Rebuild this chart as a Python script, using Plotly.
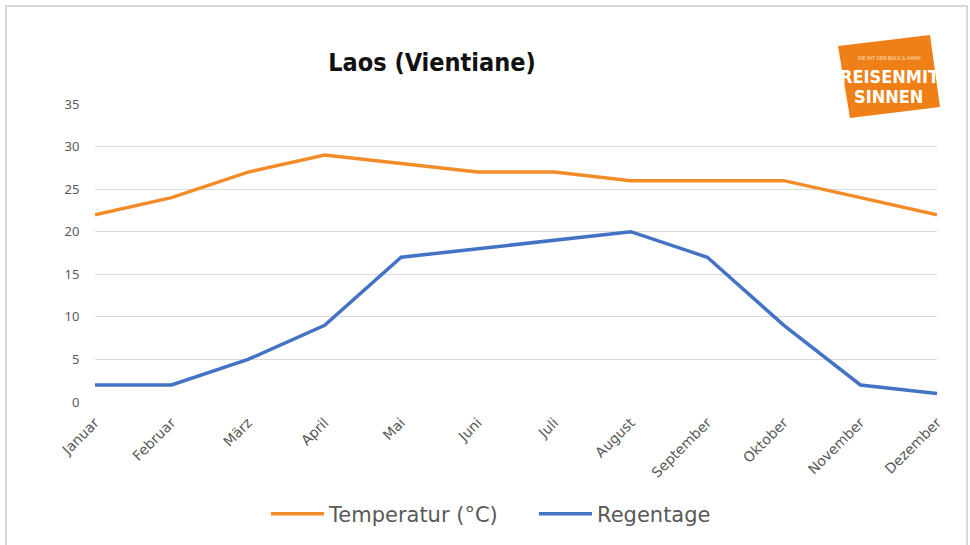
import plotly.graph_objects as go

months = ["Januar", "Februar", "März", "April", "Mai", "Juni", "Juli",
          "August", "September", "Oktober", "November", "Dezember"]
temperatur = [22, 24, 27, 29, 28, 27, 27, 26, 26, 26, 24, 22]
regentage = [2, 2, 5, 9, 17, 18, 19, 20, 17, 9, 2, 1]
y_ticks = [0, 5, 10, 15, 20, 25, 30, 35]

W, H = 970, 545
L, R, T, B = 95, 937, 104, 402  # plot area in pixels


def px(x):
    return (x - L) / (R - L)


def py(y):
    return (B - y) / (B - T)


fig = go.Figure()
fig.add_trace(go.Scatter(x=months, y=temperatur, mode="lines", name="Temperatur (°C)",
                         line=dict(color="#F28C28", width=3.5)))
fig.add_trace(go.Scatter(x=months, y=regentage, mode="lines", name="Regentage",
                         line=dict(color="#4472C4", width=3.5)))

ytick_font = dict(family="Noto Sans, DejaVu Sans, sans-serif", size=13, color="#595959")
xtick_font = dict(family="DejaVu Sans, sans-serif", size=14, color="#595959")
cond = "DejaVu Sans Condensed, Liberation Sans Narrow, sans-serif"

fig.update_layout(
    width=W, height=H,
    margin=dict(l=L, r=W - R, t=T, b=H - B, autoexpand=False),
    paper_bgcolor="white", plot_bgcolor="white",
    showlegend=True,
    legend=dict(orientation="h", x=px(534), y=py(514), xanchor="center", yanchor="middle",
                font=dict(family="DejaVu Sans, sans-serif", size=21, color="#595959"),
                itemwidth=53, entrywidth=200, entrywidthmode="pixels",
                bgcolor="rgba(0,0,0,0)"),
    title=dict(text="<b>Laos (Vientiane)</b>", xref="container", yref="container",
               x=432 / W, y=1 - 62 / H, xanchor="center", yanchor="middle",
               font=dict(family=cond, size=25, color="#111111")),
    xaxis=dict(type="category", range=[0, 11], showgrid=False, zeroline=False,
               showline=False, tickangle=-45, tickfont=xtick_font, automargin=False,
               ticks="outside", ticklen=6, tickcolor="rgba(0,0,0,0)"),
    yaxis=dict(range=[0, 35], tickvals=y_ticks, showgrid=True, gridcolor="#d9d9d9",
               gridwidth=1, zeroline=False, showline=False, tickfont=ytick_font,
               automargin=False,
               ticks="outside", ticklen=12, tickcolor="rgba(0,0,0,0)"),
)

# outer frame
fig.add_shape(type="rect", xref="paper", yref="paper",
              x0=px(6), x1=px(967), y0=py(560), y1=py(6),
              line=dict(color="#d9d9d9", width=2), fillcolor="rgba(0,0,0,0)", layer="below")

# logo
poly = [(838, 46), (930, 35), (940, 107), (850, 118)]
path = "M " + " L ".join(f"{px(a)},{py(b)}" for a, b in poly) + " Z"
fig.add_shape(type="path", xref="paper", yref="paper", path=path,
              fillcolor="#EF8018", line=dict(width=0))
fig.add_annotation(xref="paper", yref="paper", x=px(889), y=py(58), xanchor="center",
                   yanchor="middle", text="DIE MIT DEM BOCK & HARM", showarrow=False,
                   font=dict(size=5, color="#FBE3C8", family=cond))
fig.add_annotation(xref="paper", yref="paper", x=px(889), y=py(77), xanchor="center",
                   yanchor="middle", text="<b>REISENMIT</b>", showarrow=False,
                   font=dict(size=18, color="white", family=cond))
fig.add_annotation(xref="paper", yref="paper", x=px(888), y=py(96), xanchor="center",
                   yanchor="middle", text="<b>SINNEN</b>", showarrow=False,
                   font=dict(size=18, color="white", family=cond))

fig.write_html("out.html", config={"displayModeBar": False},
               post_script="document.body.style.margin='0';")
